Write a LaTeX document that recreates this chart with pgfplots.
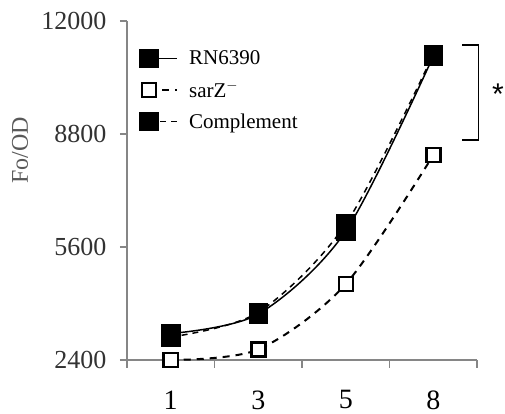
\documentclass[border=0pt]{standalone}
\usepackage{fontspec}
\setmainfont{Liberation Serif}
\newfontfamily\sansf{Liberation Sans}
\usepackage{pgfplots}
\pgfplotsset{compat=1.18}
\definecolor{axgray}{RGB}{134,134,134}
\definecolor{labgray}{RGB}{89,89,89}
\definecolor{tickgray}{RGB}{50,50,50}
\begin{document}
\begin{tikzpicture}
\useasboundingbox (-127pt,-54pt) rectangle (378pt,360pt);
\begin{axis}[
  at={(0pt,0pt)}, anchor=south west,
  scale only axis, width=350pt, height=339pt,
  xmin=-0.5, xmax=3.5, ymin=2400, ymax=12000,
  clip=false,
  axis x line=bottom, axis y line=left,
  axis line style={axgray, line width=1.5pt, -},
  xtick={0,1,2,3}, xticklabels={1,3,5,8},
  minor xtick={-0.5,0.5,1.5,2.5,3.5},
  ytick={2400,5600,8800,12000},
  scaled y ticks=false,
  tick align=outside, major tick length=7pt, minor tick length=8pt,
  major x tick style={draw=none},
  minor x tick style={axgray, line width=1.5pt},
  y tick style={axgray, line width=1.5pt},
  /pgf/number format/assume math mode=true,
  /pgf/number format/1000 sep={},
  yticklabel style={font=\fontsize{26}{26}\selectfont, text=tickgray, xshift=-10pt},
  xticklabel style={font=\fontsize{28}{28}\selectfont, text=black, yshift=-20pt},
  ylabel={Fo/OD},
  every axis y label/.style={at={([xshift=-107pt]rel axis cs:0,0.619)}, rotate=90, anchor=center, font=\fontsize{24}{24}\selectfont, text=labgray},
  legend style={draw=none, fill=none, at={(rel axis cs:0.037,0.919)}, anchor=north west,
    font=\fontsize{21}{21}\selectfont, row sep=11pt, inner sep=0pt},
  legend cell align=left,
  legend image code/.code={
    \draw[#1, mark=none] (0pt,0pt) -- (28pt,0pt);
    \draw[#1] plot coordinates {(0pt,0pt)};
    \path (37pt,0pt);
  },
]
\addplot[black, line width=1.5pt, smooth, mark=square*, mark size=9pt, mark options={solid, fill=black}]
  coordinates {(0,3150) (1,3700) (2,6050) (3,11000)};
\addlegendentry{RN6390}
\addplot[black, line width=2pt, smooth, dash pattern=on 7pt off 6pt, mark=square*, mark size=7pt, mark options={solid, fill=white, line width=2.5pt}]
  coordinates {(0,2400) (1,2700) (2,4550) (3,8200)};
\addlegendentry{sarZ$^{-}$}
\addplot[black, line width=1.5pt, smooth, dash pattern=on 6pt off 5pt, mark=square*, mark size=9pt, mark options={solid, fill=black}]
  coordinates {(0,3050) (1,3750) (2,6250) (3,11050)};
\addlegendentry{Complement}
\draw[black, line width=1.2pt] (axis cs:3.33,11320) -- (axis cs:3.52,11320) -- (axis cs:3.52,8630) -- (axis cs:3.33,8630);
\node[anchor=center, yshift=-6.5pt] at (axis cs:3.74,10100) {\sansf\fontsize{30}{30}\selectfont *};
\end{axis}
\end{tikzpicture}
\end{document}
